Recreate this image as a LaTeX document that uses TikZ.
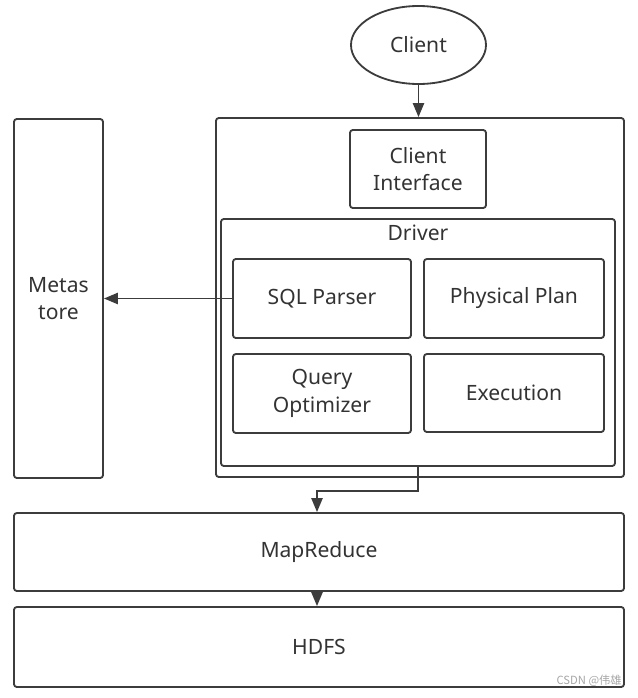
\documentclass[tikz,border=0pt]{standalone}
\usepackage{fontspec}
\setmainfont{Noto Sans}
\newfontfamily\cjk{Noto Sans CJK SC}
\usetikzlibrary{arrows.meta,shapes.geometric}
\definecolor{ln}{HTML}{3C3C3C}
\definecolor{tx}{HTML}{333333}
\tikzset{
  box/.style={draw=ln, line width=1.3pt, rounded corners=2pt, align=center,
    text=tx, font=\fontsize{15}{19.5}\selectfont, inner sep=0pt},
  ell/.style={box, ellipse, rounded corners=0pt},
  con/.style={draw=ln, line width=1.3pt, -{Triangle[length=10pt,width=8pt]}}
}
\begin{document}
\begin{tikzpicture}[x=0.025cm,y=-0.025cm]
\useasboundingbox (0,0) rectangle (638,698);
\def\bx#1#2#3#4#5#6{
\node [box, minimum width=#4*0.025cm, minimum height=#5*0.025cm] (#1) at (#2,#3) {#6};
}
% outer boxes
\bx{hive}{420}{297.5}{408}{359}{}
\bx{driver}{418}{342.5}{394}{247}{}
\node [text=tx, font=\fontsize{15}{17}\selectfont, anchor=north, inner sep=0pt] (drvlbl) at ([yshift=-5pt]driver.north) {Driver};
\bx{meta}{58.5}{298.5}{89}{359}{Metas\\tore}
% inner boxes
\bx{ci}{418}{169}{136}{78}{Client\\Interface}
\bx{sql}{322}{298.5}{178}{79}{SQL Parser}
\bx{pp}{514}{298.5}{180}{79}{Physical Plan}
\bx{qo}{322}{393.5}{178}{79}{Query\\Optimizer}
\bx{ex}{514}{393}{180}{78}{Execution}
% bottom layers
\bx{mr}{319}{552}{610}{78}{MapReduce}
\bx{hdfs}{319}{647}{610}{80}{HDFS}
% client
\node [ell, minimum width=135*0.025cm, minimum height=78*0.025cm] (client) at (418.5,45) {Client};
% connectors
\draw [con] (client.south) -- (client.south |- hive.north);
\draw [con] (sql.west) -- (meta.east |- sql.west);
\draw [con] (driver.south) -- ++(0,24) -| ([xshift=-2*0.025cm]mr.north);
\draw [con] ([xshift=-2*0.025cm]mr.south) -- ([xshift=-2*0.025cm]hdfs.north);
\node [text=gray!70, font=\cjk\fontsize{8}{9}\selectfont, anchor=east, inner sep=0pt] (wm) at (622,681) {CSDN @伟雄};
\end{tikzpicture}
\end{document}
